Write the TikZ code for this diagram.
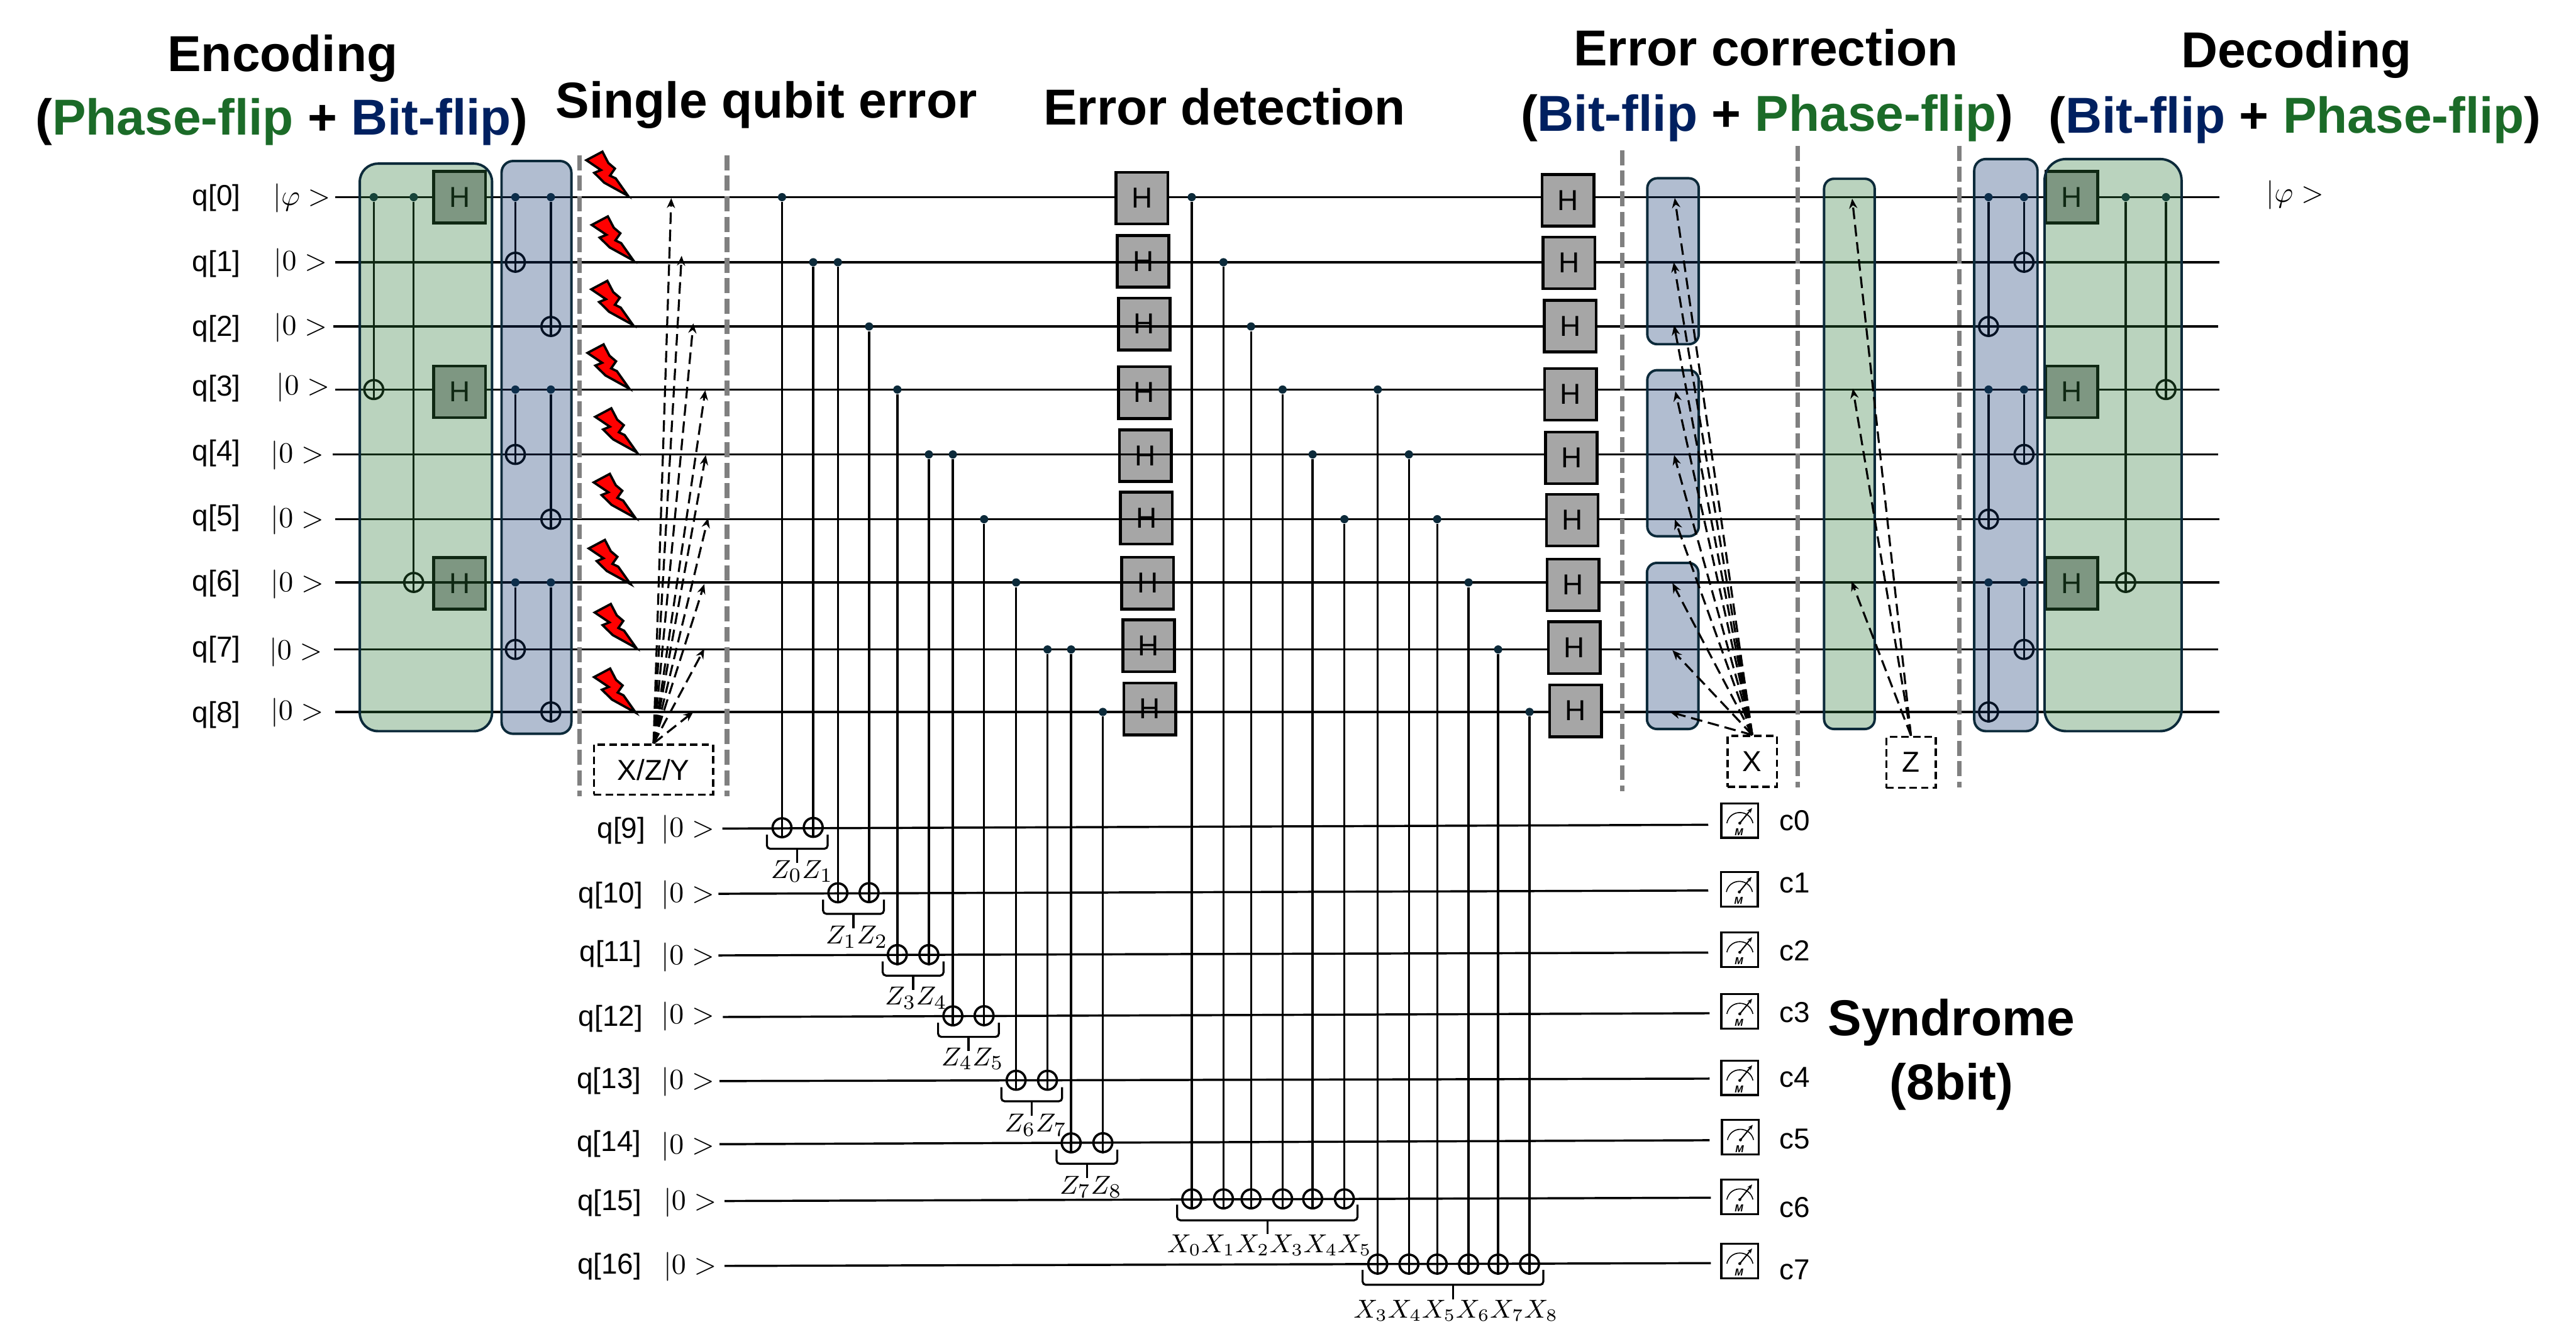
\documentclass[tikz,border=0pt]{standalone}
\usepackage[no-math]{fontspec}
\setmainfont{Liberation Sans}
\usetikzlibrary{arrows.meta,fit}
\definecolor{phasegreen}{HTML}{1B6B28}
\definecolor{bitnavy}{HTML}{002060}
\definecolor{blockline}{HTML}{0C2A3A}
\definecolor{blockgreen}{HTML}{2E7A3A}
\definecolor{blockblue}{HTML}{123770}
\providecommand{\cnotgate}[4]{%
  \node[ctrl] (#1c) at (#2,#3) {};
  \node[targ] (#1t) at (#2,#4) {};
  \draw[wire] (#1c) -- (#1t.south);}
\providecommand{\synbrace}[5]{%
  \draw[brc] (#1,#3) -- (#1,#4) -- (#2,#4) -- (#2,#3);
  \draw[brc] ({(#1+#2)/2},#4) -- ({(#1+#2)/2},#5);}

\begin{document}
\begin{tikzpicture}[
  x=0.2mm, y=-0.2mm,
  wire/.style={line width=0.75pt},
  ctrl/.style={circle, fill=blockline, minimum size=1mm, inner sep=0pt},
  targ/.style={circle, draw, line width=0.8pt, minimum size=2.3mm, inner sep=0pt},
  hgate/.style={draw, line width=1pt, fill=black!35, minimum size=6.3mm, inner sep=0pt},
  greenblk/.style={draw=blockline, line width=0.85pt, fill=blockgreen, fill opacity=0.33,
                   inner sep=0pt, rounded corners=2.2mm},
  blueblk/.style={draw=blockline, line width=0.85pt, fill=blockblue, fill opacity=0.33,
                  inner sep=0pt, rounded corners=1.4mm},
  sep/.style={draw=black!50, line width=1.6pt, dash pattern=on 5.2pt off 1.9pt},
  errbox/.style={draw, dashed, line width=0.8pt, dash pattern=on 2.6pt off 1.4pt, inner sep=0pt},
  errarrow/.style={-{Stealth[length=1.2mm,width=1mm]}, line width=0.7pt, dash pattern=on 4pt off 2pt},
  brc/.style={line width=0.7pt, rounded corners=0.4mm},
  ttl/.style={font=\fontsize{17.5}{20}\selectfont\bfseries, anchor=base, inner sep=0pt},
  syn/.style={font=\fontsize{9.5}{11}\selectfont, inner sep=0pt},
  meter/.style={draw, line width=0.7pt, minimum width=4.5mm, minimum height=4.2mm, inner sep=0pt,
    path picture={
      \begin{scope}[shift={(path picture bounding box.center)}]
        \draw[line width=0.35pt] (-7.9,1.6) .. controls (-6,-7) and (6,-7) .. (8,1.6);
        \draw[line width=0.45pt, -{Stealth[length=0.6mm,width=0.5mm]}] (0,1.6) -- (7.5,-7.6);
        \fill (0,1.6) circle (0.9);
        \node[font=\fontsize{3.5}{4}\selectfont\bfseries\itshape, inner sep=0pt] (dial) at (-0.5,7) {M};
      \end{scope}}},
  errbolt/.pic={
    \draw[fill=red, line width=0.8pt, miter limit=6]
      (0,0) -- (-14.5,-8) -- (-20.6,-14) -- (-16.5,-15.7) -- (-25.4,-21.7) -- (-15.6,-26.9)
      -- (-12,-20) -- (-8,-16.6) -- (-11,-12.3) -- (-7.5,-10.6) -- cycle;
  },
]
\useasboundingbox (0,0) rectangle (1568,811.7);

% ---- gates the wires run over -------------------------------------------
\node[hgate] (d1) at (695.8,159.1) {H};
\node[hgate] (d2) at (696.5,197.2) {H};
\node[hgate] (d3) at (696.5,238.9) {H};
\node[hgate] (d4) at (697.2,277.3) {H};
\node[hgate] (d5) at (697.8,315.4) {H};
\node[hgate] (d6) at (698.5,354.9) {H};
\node[hgate] (d7) at (699.2,393.1) {H};
\node[hgate] (d8) at (699.8,431.5) {H};
\node[hgate] (enc6) at (279.7,355) {H};

% ---- data qubits --------------------------------------------------------
\node (q0) at (131.7,120.6) {q[0]};  \node (k0) at (183.7,120.6) {$|\varphi>$};
\node (q1) at (131.7,160.5) {q[1]};  \node (k1) at (183,160) {$|0>$};
\node (q2) at (131.7,200)   {q[2]};  \node (k2) at (183,199.3) {$|0>$};
\node (q3) at (131.7,236.5) {q[3]};  \node (k3) at (184.5,236) {$|0>$};
\node (q4) at (131.7,276)   {q[4]};  \node (k4) at (181,277) {$|0>$};
\node (q5) at (131.7,315.2) {q[5]};  \node (k5) at (181,316.6) {$|0>$};
\node (q6) at (131.7,355)   {q[6]};  \node (k6) at (181,355.5) {$|0>$};
\node (q7) at (131.7,395.2) {q[7]};  \node (k7) at (180,396.9) {$|0>$};
\node (q8) at (131.7,435)   {q[8]};  \node (k8) at (180.8,433.7) {$|0>$};
\node (kout) at (1397,118.7) {$|\varphi>$};

\coordinate (w0) at (204,120);   \coordinate (x0) at (1351,120);
\coordinate (w1) at (204,159.6); \coordinate (x1) at (1351,159.6);
\coordinate (w2) at (203,198.7); \coordinate (x2) at (1350,198.7);
\coordinate (w3) at (204,237.1); \coordinate (x3) at (1351,237.1);
\coordinate (w4) at (202.4,276.6); \coordinate (x4) at (1350,276.6);
\coordinate (w5) at (204,316);   \coordinate (x5) at (1351,316);
\coordinate (w6) at (204,354.5); \coordinate (x6) at (1351,354.5);
\coordinate (w7) at (203.3,395.3); \coordinate (x7) at (1350,395.3);
\coordinate (w8) at (204,433.3); \coordinate (x8) at (1351,433.3);
\draw[wire] (w0) -- (x0);
\draw[wire] (w1) -- (x1);
\draw[wire] (w2) -- (x2);
\draw[wire] (w3) -- (x3);
\draw[wire] (w4) -- (x4);
\draw[wire] (w5) -- (x5);
\draw[wire] (w6) -- (x6);
\draw[wire] (w7) -- (x7);
\draw[wire] (w8) -- (x8);

% ---- ancilla qubits and readout -----------------------------------------
\node (q9)  at (378.2,505.4) {q[9]};  \node (k9)  at (418.7,505) {$|0>$};
\node (q10) at (371.7,544.9) {q[10]}; \node (k10) at (418.7,544.9) {$|0>$};
\node (q11) at (371.7,580.7) {q[11]}; \node (k11) at (418.7,582.5) {$|0>$};
\node (q12) at (371.7,620)   {q[12]}; \node (k12) at (418.7,618.6) {$|0>$};
\node (q13) at (370.7,657.8) {q[13]}; \node (k13) at (418.7,658.6) {$|0>$};
\node (q14) at (370.7,696.3) {q[14]}; \node (k14) at (418.7,697.9) {$|0>$};
\node (q15) at (371,732)     {q[15]}; \node (k15) at (420,732) {$|0>$};
\node (q16) at (371,771)     {q[16]}; \node (k16) at (420,771) {$|0>$};

\node[meter] (m0) at (1059,499.4) {};
\node[meter] (m1) at (1058.7,541.3) {};
\node[meter] (m2) at (1059,578) {};
\node[meter] (m3) at (1059,615.5) {};
\node[meter] (m4) at (1059,656) {};
\node[meter] (m5) at (1059.4,692.2) {};
\node[meter] (m6) at (1059,728.5) {};
\node[meter] (m7) at (1059,767.5) {};
\node (c0) at (1092.4,499.6) {c0};
\node (c1) at (1092.4,537.5) {c1};
\node (c2) at (1092.4,578.8) {c2};
\node (c3) at (1092.4,616.3) {c3};
\node (c4) at (1092.4,655.7) {c4};
\node (c5) at (1092.4,693.2) {c5};
\node (c6) at (1092.4,735)   {c6};
\node (c7) at (1092.4,773)   {c7};

\coordinate (w9)  at (439.7,504.3); \coordinate (x9)  at (1039.8,502);
\coordinate (w10) at (437.3,544);   \coordinate (x10) at (1039.8,542);
\coordinate (w11) at (437.3,581.5); \coordinate (x11) at (1039.8,579.8);
\coordinate (w12) at (440,619);     \coordinate (x12) at (1040.6,616.7);
\coordinate (w13) at (438,658);     \coordinate (x13) at (1040.6,656.5);
\coordinate (w14) at (438,696.4);   \coordinate (x14) at (1040.6,694);
\coordinate (w15) at (441,731);     \coordinate (x15) at (1041.4,729);
\coordinate (w16) at (441,770.5);   \coordinate (x16) at (1041.4,768.8);
\draw[wire] (w9) -- (x9);
\draw[wire] (w10) -- (x10);
\draw[wire] (w11) -- (x11);
\draw[wire] (w12) -- (x12);
\draw[wire] (w13) -- (x13);
\draw[wire] (w14) -- (x14);
\draw[wire] (w15) -- (x15);
\draw[wire] (w16) -- (x16);

% ---- encoding -----------------------------------------------------------
\cnotgate{ea}{227.5}{120}{237.1}
\cnotgate{eb}{251.8}{120}{354.5}
\node[hgate] (enc0) at (279.7,120) {H};
\node[hgate] (enc3) at (279.7,238.5) {H};
\cnotgate{fa}{313.7}{120}{159.6}
\cnotgate{fb}{335.3}{120}{198.7}
\cnotgate{fc}{313.7}{237.1}{276.6}
\cnotgate{fd}{335.3}{237.1}{316}
\cnotgate{fe}{313.7}{354.5}{395.3}
\cnotgate{ff}{335.3}{354.5}{433.3}
\node[greenblk, fit={(219,99.6) (299.5,445)}] (encphase) {};
\node[blueblk, fit={(305.3,98) (347.8,446.6)}] (encbit) {};

% ---- single qubit error -------------------------------------------------
\coordinate (sa1) at (352.7,94.5); \coordinate (sa2) at (352.7,484.7);
\coordinate (sb1) at (442.5,94.5); \coordinate (sb2) at (442.5,484.7);
\draw[sep] (sa1) -- (sa2);
\draw[sep] (sb1) -- (sb2);
\pic at (382.3,119.2) {errbolt};
\pic at (385.6,158.6) {errbolt};
\pic at (385.3,197.8) {errbolt};
\pic at (383,236.5) {errbolt};
\pic at (387.7,275.4) {errbolt};
\pic at (386.8,315.3) {errbolt};
\pic at (383.8,355.5) {errbolt};
\pic at (387.4,394.5) {errbolt};
\pic at (387,433.8) {errbolt};
\node[errbox, minimum width=14.5mm, minimum height=6.1mm] (xzy) at (397.8,468.4) {X/Z/Y};
\coordinate (p0) at (408.6,120.6);
\coordinate (p1) at (414.9,155.7);
\coordinate (p2) at (422,196.8);
\coordinate (p3) at (429.3,237.5);
\coordinate (p4) at (429.6,277);
\coordinate (p5) at (431,315.3);
\coordinate (p6) at (428.7,355.5);
\coordinate (p7) at (428.7,394.9);
\coordinate (p8) at (422,433.3);
\draw[errarrow] (xzy.north) -- (p0);
\draw[errarrow] (xzy.north) -- (p1);
\draw[errarrow] (xzy.north) -- (p2);
\draw[errarrow] (xzy.north) -- (p3);
\draw[errarrow] (xzy.north) -- (p4);
\draw[errarrow] (xzy.north) -- (p5);
\draw[errarrow] (xzy.north) -- (p6);
\draw[errarrow] (xzy.north) -- (p7);
\draw[errarrow] (xzy.north) -- (p8);

% ---- error detection ----------------------------------------------------
\node[hgate] (d0) at (695.1,120.6) {H};

\cnotgate{za}{476}{120}{503.8}
\cnotgate{zb}{495}{159.6}{503.6}
\cnotgate{zc}{510}{159.6}{543.4}
\cnotgate{zd}{529}{198.7}{543.3}
\cnotgate{ze}{546.2}{237.1}{581}
\cnotgate{zf}{565.4}{276.6}{581}
\cnotgate{zg}{580}{276.6}{618.3}
\cnotgate{zh}{599}{316}{618.2}
\cnotgate{zi}{618.5}{354.5}{657.5}
\cnotgate{zj}{637.6}{395.3}{657.5}
\cnotgate{zk}{652}{395.3}{695.6}
\cnotgate{zl}{671.3}{433.3}{695.5}

\cnotgate{xa}{725.4}{120}{729.7}
\cnotgate{xb}{744.7}{159.6}{729.7}
\cnotgate{xc}{761.5}{198.7}{729.7}
\cnotgate{xd}{780.7}{237.1}{729.7}
\cnotgate{xe}{799}{276.6}{729.7}
\cnotgate{xf}{818.3}{316}{729.7}

\cnotgate{xg}{838.6}{237.1}{769.4}
\cnotgate{xh}{857.6}{276.6}{769.4}
\cnotgate{xi}{874.8}{316}{769.4}
\cnotgate{xj}{893.9}{354.5}{769.4}
\cnotgate{xk}{911.9}{395.3}{769.4}
\cnotgate{xl}{931}{433.3}{769.4}

\synbrace{466.8}{503.8}{508}{516.6}{525.3}
\synbrace{501}{538}{547.6}{556.2}{564.9}
\synbrace{537.3}{574.3}{585.2}{593.8}{602.5}
\synbrace{571}{608}{622.5}{631.1}{639.8}
\synbrace{609.5}{646.5}{661.7}{670.3}{679}
\synbrace{643.1}{680.1}{699.7}{708.3}{717}
\synbrace{716.5}{826.3}{733.2}{742.7}{751}
\synbrace{829.4}{939.4}{772.9}{782}{790.7}

\node[syn] (s0) at (488.2,530.3) {$Z_0Z_1$};
\node[syn] (s1) at (521.5,570.3) {$Z_1Z_2$};
\node[syn] (s2) at (557.6,607.4) {$Z_3Z_4$};
\node[syn] (s3) at (592,644.5) {$Z_4Z_5$};
\node[syn] (s4) at (630.4,684.8) {$Z_6Z_7$};
\node[syn] (s5) at (664,722.5) {$Z_7Z_8$};
\node[syn, font=\fontsize{9}{11}\selectfont] (s6) at (772.7,758) {$X_0X_1X_2X_3X_4X_5$};
\node[syn, font=\fontsize{9}{11}\selectfont] (s7) at (886.2,797.8) {$X_3X_4X_5X_6X_7X_8$};

% ---- error correction ---------------------------------------------------
\node[hgate] (g0) at (954.4,121.9) {H};
\node[hgate] (g1) at (955,160) {H};
\node[hgate] (g2) at (955.8,198.5) {H};
\node[hgate] (g3) at (956,240) {H};
\node[hgate] (g4) at (956.5,278.7) {H};
\node[hgate] (g5) at (957,316.6) {H};
\node[hgate] (g6) at (957.5,356) {H};
\node[hgate] (g7) at (958.2,394.2) {H};
\node[hgate] (g8) at (959,432.6) {H};

\coordinate (sc1) at (987.5,91.4);  \coordinate (sc2) at (987.5,481.7);
\coordinate (sd1) at (1094.2,89);   \coordinate (sd2) at (1094.2,479.3);
\coordinate (se1) at (1192.6,89);   \coordinate (se2) at (1192.6,479.3);
\draw[sep] (sc1) -- (sc2);
\draw[sep] (sd1) -- (sd2);
\draw[sep] (se1) -- (se2);

\node[blueblk, rounded corners=1.2mm, fit={(1002.7,108.5) (1034,209.5)}] (cora) {};
\node[blueblk, rounded corners=1.2mm, fit={(1002.7,225.3) (1034,326.4)}] (corb) {};
\node[blueblk, rounded corners=1.2mm, fit={(1002.5,342.6) (1033.8,443.7)}] (corc) {};
\node[greenblk, rounded corners=1.2mm, fit={(1110.3,108.8) (1141.1,443.7)}] (cord) {};

\node[errbox, minimum width=6mm, minimum height=6.2mm] (fixx) at (1066.6,463.5) {X};
\node[errbox, minimum width=6mm, minimum height=6.2mm] (fixz) at (1163.2,464) {Z};
\coordinate (r0) at (1019.4,120.5);
\coordinate (r1) at (1018.8,159.7);
\coordinate (r2) at (1019,198);
\coordinate (r3) at (1019.8,238.2);
\coordinate (r4) at (1019,277);
\coordinate (r5) at (1019.5,316.2);
\coordinate (r6) at (1018,354.9);
\coordinate (r7) at (1018,395.8);
\coordinate (r8) at (1016.6,433.4);
\draw[errarrow] (fixx.north) -- (r0);
\draw[errarrow] (fixx.north) -- (r1);
\draw[errarrow] (fixx.north) -- (r2);
\draw[errarrow] (fixx.north) -- (r3);
\draw[errarrow] (fixx.north) -- (r4);
\draw[errarrow] (fixx.north) -- (r5);
\draw[errarrow] (fixx.north) -- (r6);
\draw[errarrow] (fixx.north) -- (r7);
\draw[errarrow] (fixx.north) -- (r8);
\coordinate (t0) at (1127.4,120.9);
\coordinate (t3) at (1127.8,236.5);
\coordinate (t6) at (1127,353.8);
\draw[errarrow] (fixz.north) -- (t0);
\draw[errarrow] (fixz.north) -- (t3);
\draw[errarrow] (fixz.north) -- (t6);

% ---- decoding -----------------------------------------------------------
\cnotgate{ba}{1232}{120}{159.6}
\cnotgate{bb}{1210.4}{120}{198.7}
\cnotgate{bc}{1232}{237.1}{276.6}
\cnotgate{bd}{1210.4}{237.1}{316}
\cnotgate{be}{1232}{354.5}{395.3}
\cnotgate{bf}{1210.4}{354.5}{433.3}
\node[hgate] (dec0) at (1261,120) {H};
\node[hgate] (dec3) at (1261,238.5) {H};
\node[hgate] (dec6) at (1261,355) {H};
\cnotgate{pa}{1293.9}{120}{354.5}
\cnotgate{pb}{1318.4}{120}{237.1}
\node[blueblk, fit={(1201.7,96.8) (1240.2,445)}] (decbit) {};
\node[greenblk, rounded corners=2.6mm, fit={(1244.5,96.8) (1327.9,445)}] (decphase) {};

% ---- titles -------------------------------------------------------------
\node[ttl] (tenc) at (172,43.3) {Encoding};
\node[ttl] (tenc2) at (171.5,82) {(\textcolor{phasegreen}{Phase-flip} + \textcolor{bitnavy}{Bit-flip})};
\node[ttl] (terr) at (466.5,71.6) {Single qubit error};
\node[ttl] (tdet) at (745.4,76) {Error detection};
\node[ttl] (tcor) at (1075,39.9) {Error correction};
\node[ttl] (tcor2) at (1075.6,79.7) {(\textcolor{bitnavy}{Bit-flip} + \textcolor{phasegreen}{Phase-flip})};
\node[ttl] (tdec) at (1397.7,41.2) {Decoding};
\node[ttl] (tdec2) at (1396.9,81) {(\textcolor{bitnavy}{Bit-flip} + \textcolor{phasegreen}{Phase-flip})};
\node[ttl] (tsyn) at (1187.8,630.3) {Syndrome};
\node[ttl] (tsyn2) at (1187.8,669.3) {(8bit)};

\end{tikzpicture}
\end{document}
